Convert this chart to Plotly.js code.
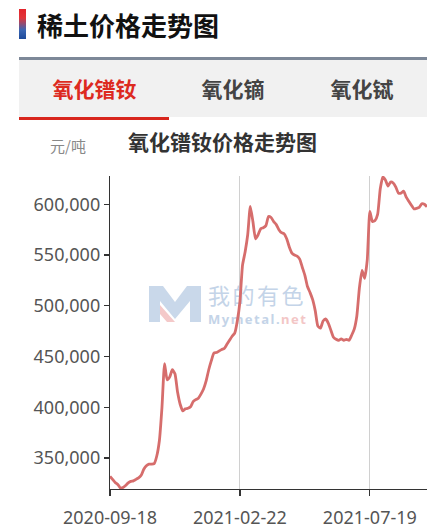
<!DOCTYPE html>
<html>
<head>
<meta charset="utf-8">
<script src="https://cdn.plot.ly/plotly-3.0.1.min.js"></script>
<style>
  html, body { margin:0; padding:0; background:#fff; }
  body { width:436px; height:532px; position:relative; overflow:hidden; font-family:"Noto Sans CJK SC", "Noto Sans", sans-serif; }
  .abs { position:absolute; }
  #bar { left:19px; top:9px; width:7px; height:30px; background:linear-gradient(to bottom, #e3242b 0%, #e0353a 30%, #3a66b3 70%, #1d4a9a 100%); }
  #head { left:37px; top:8px; height:34px; line-height:34px; font-size:26px; font-weight:bold; color:#111; white-space:nowrap; }
  #topline { left:19px; top:57px; width:408px; height:3px; background:#7d8898; }
  #tabs { left:19px; top:60px; width:408px; height:57px; background:#f1f1f1; }
  .tab { top:60px; height:57px; line-height:57px; font-size:21px; font-weight:bold; white-space:nowrap; transform:translateX(-50%); }
  #under { left:19px; top:117px; width:150px; height:3px; background:#d8261d; }
  #wm1 { left:208px; top:283px; font-size:22px; line-height:22px; height:22px; color:#c4d4e8; white-space:nowrap; letter-spacing:2.5px; }
  #wm2 { left:208px; top:312.5px; font-size:13px; line-height:13px; height:13px; font-weight:bold; color:#c4d4e8; white-space:nowrap; font-family:"Noto Sans", sans-serif; letter-spacing:1.5px; }
  #plot { left:0; top:0; width:436px; height:532px; }
</style>
</head>
<body>
<div id="bar" class="abs"></div>
<div id="head" class="abs">稀土价格走势图</div>
<div id="topline" class="abs"></div>
<div id="tabs" class="abs"></div>
<div class="abs tab" style="left:94.5px; color:#dd2a1f;">氧化镨钕</div>
<div class="abs tab" style="left:233px; color:#444;">氧化镝</div>
<div class="abs tab" style="left:362px; color:#444;">氧化铽</div>
<div id="under" class="abs"></div>
<svg class="abs" style="left:147px; top:284px;" width="56" height="40" viewBox="0 0 56 40">
  <path d="M2,2 L16,2 L28,18 L40,2 L54,2 L54,38 L43,38 L43,17 L28,35 L13,17 L13,38 L2,38 Z" fill="#c9d8ea"/>
  <path d="M13,21 L28,38 L20,38 L13,30 Z" fill="#f4c9c9"/>
</svg>
<div id="wm1" class="abs">我的有色</div>
<div id="wm2" class="abs">Mymetal.<span style="color:#f3c6c6;">net</span></div>
<div id="plot" class="abs"></div>
<script>
// Price of praseodymium-neodymium oxide (yuan/ton), sampled every 2 trading days
const prices = [
  332000, 329000, 326000, 324000, 320500, 321000, 323000, 325500, 327000, 327500,
  329000, 330500, 333000, 339000, 342500, 344000, 344000, 344500, 352000, 367000,
  400000, 443000, 427000, 430000, 437000, 433000, 415000, 403000, 396500, 398500,
  399000, 400500, 405500, 407500, 409000, 413000, 418000, 426000, 437000, 446000,
  453500, 454000, 455500, 457000, 458000, 462000, 466000, 470000, 473000, 485000,
  504000, 540000, 553000, 570000, 598000, 583000, 566000, 570000, 576000, 577000,
  579000, 588000, 587000, 583000, 580000, 575000, 572000, 571000, 566000, 558000,
  552000, 550000, 549000, 546000, 538000, 530000, 519000, 513000, 506000, 495000,
  480000, 478000, 485000, 487000, 483000, 476000, 469000, 467000, 466000, 467500,
  466000, 467000, 466000, 471000, 477000, 490000, 518000, 535000, 527000, 545000,
  593000, 583000, 584000, 590000, 615000, 627000, 624000, 618000, 622000, 621000,
  617000, 611000, 611000, 613000, 607000, 603000, 599000, 595500, 596000, 597000,
  600500, 600000, 597500
];
const tickDates = ['2020-09-18', '2021-02-22', '2021-07-19'];
const tickIdx = [0, 100, 200];            // trading-day index of each labelled date
const yTicks = [350000, 400000, 450000, 500000, 550000, 600000];
const chartTitle = '氧化镨钕价格走势图';
const unitLabel = '元/吨';

const xs = prices.map((_, i) => i * 2);   // trading-day index of each sample

const trace = {
  x: xs, y: prices, type: 'scatter', mode: 'lines',
  line: { color: '#d66d6c', width: 2.8, shape: 'spline', smoothing: 0.5 },
  hoverinfo: 'none'
};

const layout = {
  width: 436, height: 532,
  margin: { l: 110, r: 9, t: 176, b: 43 },
  paper_bgcolor: 'rgba(0,0,0,0)',
  plot_bgcolor: 'rgba(0,0,0,0)',
  showlegend: false,
  title: {
    text: chartTitle,
    x: 128 / 436, xref: 'container', xanchor: 'left',
    y: 1 - 143 / 532, yref: 'container', yanchor: 'middle',
    font: { family: 'Noto Sans CJK SC', size: 21, color: '#333', weight: 'bold' }
  },
  xaxis: {
    range: [0, 244],
    tickvals: tickIdx, ticktext: tickDates,
    showgrid: true, gridcolor: '#d0d0d0', gridwidth: 1,
    showline: true, linecolor: '#333', linewidth: 1.2,
    ticks: 'outside', ticklen: 6, tickcolor: '#333', tickwidth: 1.2,
    tickfont: { family: 'Noto Sans', size: 18, color: '#555' },
    ticklabelstandoff: 6,
    zeroline: false, fixedrange: true
  },
  yaxis: {
    range: [319500, 627900],
    tickvals: yTicks,
    tickformat: ',d',
    showgrid: false,
    showline: true, linecolor: '#333', linewidth: 1.2,
    ticks: 'outside', ticklen: 5, tickcolor: '#333', tickwidth: 1.2,
    tickfont: { family: 'Noto Sans', size: 18, color: '#555' },
    zeroline: false, fixedrange: true
  },
  annotations: [{
    text: unitLabel, xref: 'paper', yref: 'paper',
    x: (48 - 110) / 317, xanchor: 'left',
    y: (489.3 - 145) / 313.3, yanchor: 'middle',
    showarrow: false,
    font: { family: 'Noto Sans CJK SC', size: 15, color: '#888' }
  }]
};

Plotly.newPlot('plot', [trace], layout, { displayModeBar: false, staticPlot: true });
</script>
</body>
</html>
